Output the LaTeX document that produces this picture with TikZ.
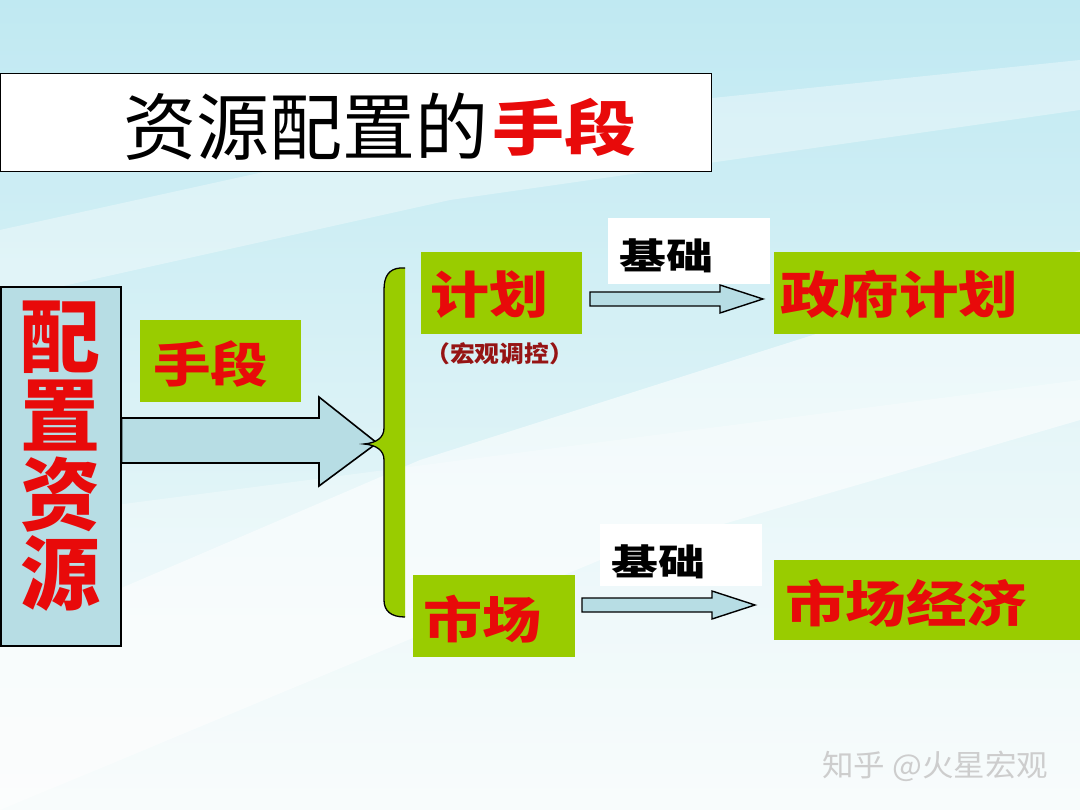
\documentclass[tikz,border=0pt]{standalone}
\usepackage{fontspec}
\usepackage{graphicx}
\newfontfamily\cjk{Noto Sans CJK SC}
\newcommand\widen[2]{\scalebox{#1}[1]{#2}}
\definecolor{gbox}{RGB}{153,204,0}
\definecolor{rtxt}{RGB}{232,10,10}
\definecolor{drtxt}{RGB}{150,20,20}
\definecolor{lblue}{RGB}{183,221,228}
\definecolor{bgtop}{RGB}{192,233,242}
\definecolor{bgmid}{RGB}{218,242,246}
\definecolor{bgbot}{RGB}{246,251,251}
\definecolor{wm}{RGB}{205,205,205}
\tikzset{
  greenbox/.style={fill=gbox, draw=none, inner sep=0pt, anchor=north west},
  redtxt/.style={text=rtxt, font=\cjk\bfseries\fontsize{50}{50}\selectfont, inner sep=0pt},
  jichu/.style={text=black, font=\cjk\bfseries\fontsize{36}{36}\selectfont, inner sep=0pt, anchor=west},
  whitebox/.style={fill=white, draw=none, inner sep=0pt, anchor=north west},
  blockarrow/.style={fill=lblue, draw=black, line width=1.6pt, line join=miter},
}
\begin{document}
\begin{tikzpicture}[x=1pt,y=-1pt]
\useasboundingbox (0,0) rectangle (1080,810);
% background
\shade[top color=bgtop, bottom color=bgbot, middle color=bgmid] (0,0) rectangle (1080,810);
\fill[white, opacity=0.55] (0,640) -- (420,460) -- (1080,250) -- (1080,420) -- (600,560) -- (0,810) -- cycle;
\fill[white, opacity=0.35] (0,230) -- (500,120) -- (1080,60) -- (1080,110) -- (450,200) -- (0,300) -- cycle;
\fill[white, opacity=0.3] (0,520) -- (1080,380) -- (1080,810) -- (0,810) -- cycle;
% title
\node[draw=black, line width=1.2pt, fill=white, minimum width=711, minimum height=98, anchor=north west, inner sep=0pt] (title) at (0,73) {};
\node[anchor=west, inner sep=0pt, font=\cjk\fontsize{73}{73}\selectfont] (t1) at (123,127) {资源配置的};
\node[anchor=west, inner sep=0pt, text=rtxt, font=\cjk\bfseries\fontsize{60}{60}\selectfont] (t2) at ([xshift=4]t1.east) {\widen{1.2}{手段}};
% left box
\node[draw=black, line width=1.6pt, fill=lblue, minimum width=120, minimum height=359, anchor=north west, inner sep=0pt] (src) at (0,286) {};
\node[text=rtxt, font=\cjk\bfseries\fontsize{80}{79}\selectfont, align=center, inner sep=0pt] (srct) at ([yshift=10]src.center) {配\\置\\资\\源};
% shouduan box
\node[greenbox, minimum width=161, minimum height=82] (sd) at (140,320) {};
\node[redtxt, font=\cjk\bfseries\fontsize{48}{48}\selectfont, anchor=west] (sdt) at (153,364) {\widen{1.2}{手段}};
% big arrow
\draw[blockarrow] (src.east |- 0,418) -- (319,418) -- (319,397) -- (377,443) -- (319,486) -- (319,463) -- (src.east |- 0,463) -- cycle;
% brace
\fill[gbox] (405,268) -- (400,268) .. controls (389,269) and (384,276) .. (384,290) -- (384,428) .. controls (384,438) and (376,443) .. (364,444) .. controls (376,445) and (384,450) .. (384,460) -- (384,600) .. controls (384,611) and (391,617) .. (405,617) -- cycle;
\draw[line width=1.3pt] (405,268) -- (400,268) .. controls (389,269) and (384,276) .. (384,290) -- (384,428) .. controls (384,438) and (376,443) .. (364,444) .. controls (376,445) and (384,450) .. (384,460) -- (384,600) .. controls (384,611) and (391,617) .. (405,617);
\coordinate (brace) at (364,444);
% jihua
\node[greenbox, minimum width=161, minimum height=82] (jh) at (421,252) {};
\node[redtxt, anchor=west] (jht) at (430,295) {\widen{1.18}{计划}};
\node[text=drtxt, font=\cjk\bfseries\fontsize{23}{23}\selectfont, inner sep=0pt, anchor=west] (hg) at (425,354) {\widen{1.08}{（宏观调控）}};
% shichang
\node[greenbox, minimum width=162, minimum height=82] (sc) at (413,575) {};
\node[redtxt, anchor=west] (sct) at (423,619) {\widen{1.18}{市场}};
% jichu labels
\node[whitebox, minimum width=162, minimum height=66] (w1) at (608,218) {};
\node[jichu] (jc1) at (619,256) {\widen{1.3}{基础}};
\node[whitebox, minimum width=162, minimum height=62] (w2) at (600,524) {};
\node[jichu] (jc2) at (611,562) {\widen{1.3}{基础}};
% right boxes
\node[greenbox, minimum width=306, minimum height=82] (zf) at (774,252) {};
\node[redtxt, anchor=west] (zft) at (780,294) {\widen{1.19}{政府计划}};
\node[greenbox, minimum width=306, minimum height=80] (sj) at (774,560) {};
\node[redtxt, anchor=west] (sjt) at (785,603) {\widen{1.21}{市场经济}};
% small arrows
\draw[blockarrow, line width=1.4pt] (590,292) -- (720,292) -- (720,285) -- (763,299) -- (720,313) -- (720,306) -- (590,306) -- cycle;
\draw[blockarrow, line width=1.4pt] (582,598) -- (712,598) -- (712,591) -- (755,605) -- (712,619) -- (712,612) -- (582,612) -- cycle;
% watermark
\node[text=wm, font=\cjk\fontsize{30}{30}\selectfont, anchor=west, inner sep=0pt] (wmk) at (822,766) {\widen{1.05}{知乎 @火星宏观}};
\end{tikzpicture}
\end{document}
